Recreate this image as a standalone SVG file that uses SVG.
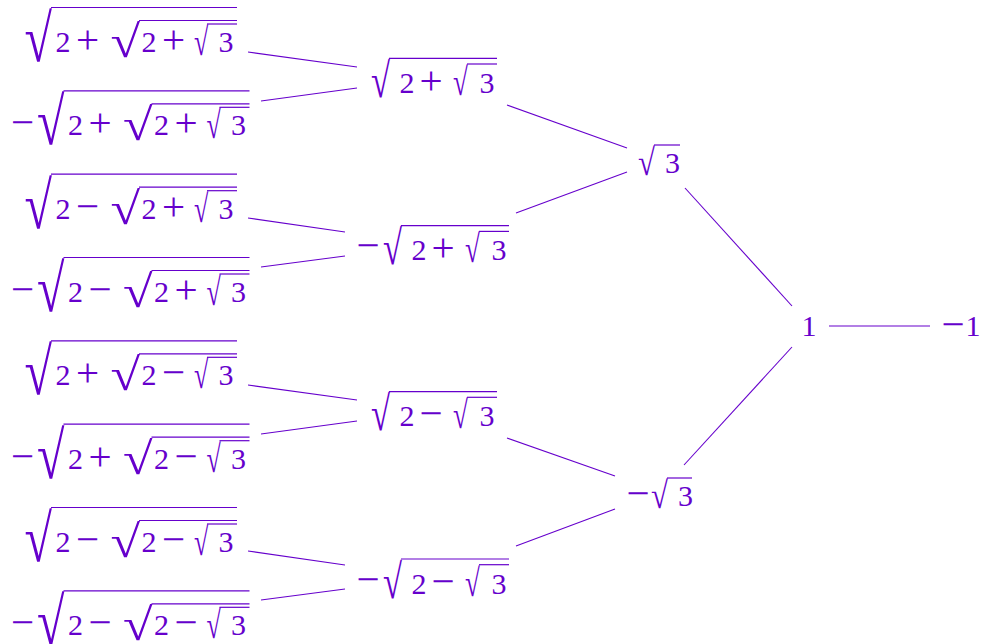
<svg xmlns="http://www.w3.org/2000/svg" width="981" height="644" viewBox="0 0 981 644">
<style>
.t{font-family:"Liberation Serif","DejaVu Serif",serif;font-size:30px;fill:#6600cc;text-anchor:middle}
.o{font-family:"Liberation Serif","DejaVu Serif",serif;font-size:41px;fill:#6600cc;text-anchor:middle}
.r{font-family:"Liberation Serif",serif;font-size:100px;fill:#6600cc}
.v{stroke:#6600cc;stroke-width:1.2;fill:none}
.c{stroke:#6600cc;stroke-width:1.1;fill:none}
.LO{transform:translate(-1.5px,53.5px) scale(0.5,0.669)}
.LI{transform:translate(-1.6px,36.5px) scale(0.538,0.456)}
.LM{transform:translate(-1px,31px) scale(0.26,0.3875)}
.NO{transform:translate(-1px,38.7px) scale(0.346,0.484)}
.NI{transform:translate(-1px,31px) scale(0.27,0.3875)}
.TT{transform:translate(-0.9px,30px) scale(0.308,0.375)}
</style>
<g id="connectors">
<line class="c" x1="248" y1="52" x2="357" y2="67"/>
<line class="c" x1="261" y1="101" x2="357" y2="88"/>
<line class="c" x1="248" y1="218" x2="345" y2="232"/>
<line class="c" x1="261" y1="267" x2="345" y2="256"/>
<line class="c" x1="248" y1="385" x2="357" y2="400"/>
<line class="c" x1="261" y1="434" x2="357" y2="421"/>
<line class="c" x1="248" y1="551" x2="345" y2="565"/>
<line class="c" x1="261" y1="600" x2="345" y2="589"/>
<line class="c" x1="507" y1="105" x2="627" y2="148"/>
<line class="c" x1="516" y1="213" x2="627" y2="172"/>
<line class="c" x1="507" y1="438" x2="615" y2="476"/>
<line class="c" x1="516" y1="546" x2="615" y2="509"/>
<line class="c" x1="685" y1="188" x2="792" y2="306"/>
<line class="c" x1="684" y1="465" x2="792" y2="347"/>
<line class="c" x1="829" y1="326" x2="930" y2="326"/>
</g>
<g id="leaf1">
<g transform="translate(26,7.5)"><text class="r LO">√</text></g><line class="v" x1="51" y1="7.5" x2="237" y2="7.5"/>
<text class="t" x="63" y="52">2</text><text class="o" x="87.5" y="53">+</text>
<g transform="translate(112,20.5)"><text class="r LI">√</text></g><line class="v" x1="139" y1="20.5" x2="237" y2="20.5"/>
<text class="t" x="149" y="52">2</text><text class="o" x="173.5" y="53">+</text>
<g transform="translate(195,24)"><text class="r LM">√</text></g><line class="v" x1="207" y1="24" x2="237" y2="24"/>
<text class="t" x="226" y="52">3</text>
</g>
<g id="leaf2">
<text class="o" x="22.5" y="136.3">−</text>
<g transform="translate(38.5,90.8)"><text class="r LO">√</text></g><line class="v" x1="63.5" y1="90.8" x2="249.5" y2="90.8"/>
<text class="t" x="75.5" y="135.3">2</text><text class="o" x="100" y="136.3">+</text>
<g transform="translate(124.5,103.8)"><text class="r LI">√</text></g><line class="v" x1="151.5" y1="103.8" x2="249.5" y2="103.8"/>
<text class="t" x="161.5" y="135.3">2</text><text class="o" x="186" y="136.3">+</text>
<g transform="translate(207.5,107.3)"><text class="r LM">√</text></g><line class="v" x1="219.5" y1="107.3" x2="249.5" y2="107.3"/>
<text class="t" x="238.5" y="135.3">3</text>
</g>
<g id="leaf3">
<g transform="translate(26,174.2)"><text class="r LO">√</text></g><line class="v" x1="51" y1="174.2" x2="237" y2="174.2"/>
<text class="t" x="63" y="218.7">2</text><text class="o" x="87.5" y="219.7">−</text>
<g transform="translate(112,187.2)"><text class="r LI">√</text></g><line class="v" x1="139" y1="187.2" x2="237" y2="187.2"/>
<text class="t" x="149" y="218.7">2</text><text class="o" x="173.5" y="219.7">+</text>
<g transform="translate(195,190.7)"><text class="r LM">√</text></g><line class="v" x1="207" y1="190.7" x2="237" y2="190.7"/>
<text class="t" x="226" y="218.7">3</text>
</g>
<g id="leaf4">
<text class="o" x="22.5" y="303">−</text>
<g transform="translate(38.5,257.5)"><text class="r LO">√</text></g><line class="v" x1="63.5" y1="257.5" x2="249.5" y2="257.5"/>
<text class="t" x="75.5" y="302">2</text><text class="o" x="100" y="303">−</text>
<g transform="translate(124.5,270.5)"><text class="r LI">√</text></g><line class="v" x1="151.5" y1="270.5" x2="249.5" y2="270.5"/>
<text class="t" x="161.5" y="302">2</text><text class="o" x="186" y="303">+</text>
<g transform="translate(207.5,274)"><text class="r LM">√</text></g><line class="v" x1="219.5" y1="274" x2="249.5" y2="274"/>
<text class="t" x="238.5" y="302">3</text>
</g>
<g id="leaf5">
<g transform="translate(26,340.8)"><text class="r LO">√</text></g><line class="v" x1="51" y1="340.8" x2="237" y2="340.8"/>
<text class="t" x="63" y="385.3">2</text><text class="o" x="87.5" y="386.3">+</text>
<g transform="translate(112,353.8)"><text class="r LI">√</text></g><line class="v" x1="139" y1="353.8" x2="237" y2="353.8"/>
<text class="t" x="149" y="385.3">2</text><text class="o" x="173.5" y="386.3">−</text>
<g transform="translate(195,357.3)"><text class="r LM">√</text></g><line class="v" x1="207" y1="357.3" x2="237" y2="357.3"/>
<text class="t" x="226" y="385.3">3</text>
</g>
<g id="leaf6">
<text class="o" x="22.5" y="469.7">−</text>
<g transform="translate(38.5,424.2)"><text class="r LO">√</text></g><line class="v" x1="63.5" y1="424.2" x2="249.5" y2="424.2"/>
<text class="t" x="75.5" y="468.7">2</text><text class="o" x="100" y="469.7">+</text>
<g transform="translate(124.5,437.2)"><text class="r LI">√</text></g><line class="v" x1="151.5" y1="437.2" x2="249.5" y2="437.2"/>
<text class="t" x="161.5" y="468.7">2</text><text class="o" x="186" y="469.7">−</text>
<g transform="translate(207.5,440.7)"><text class="r LM">√</text></g><line class="v" x1="219.5" y1="440.7" x2="249.5" y2="440.7"/>
<text class="t" x="238.5" y="468.7">3</text>
</g>
<g id="leaf7">
<g transform="translate(26,507.5)"><text class="r LO">√</text></g><line class="v" x1="51" y1="507.5" x2="237" y2="507.5"/>
<text class="t" x="63" y="552">2</text><text class="o" x="87.5" y="553">−</text>
<g transform="translate(112,520.5)"><text class="r LI">√</text></g><line class="v" x1="139" y1="520.5" x2="237" y2="520.5"/>
<text class="t" x="149" y="552">2</text><text class="o" x="173.5" y="553">−</text>
<g transform="translate(195,524)"><text class="r LM">√</text></g><line class="v" x1="207" y1="524" x2="237" y2="524"/>
<text class="t" x="226" y="552">3</text>
</g>
<g id="leaf8">
<text class="o" x="22.5" y="636.3">−</text>
<g transform="translate(38.5,590.8)"><text class="r LO">√</text></g><line class="v" x1="63.5" y1="590.8" x2="249.5" y2="590.8"/>
<text class="t" x="75.5" y="635.3">2</text><text class="o" x="100" y="636.3">−</text>
<g transform="translate(124.5,603.8)"><text class="r LI">√</text></g><line class="v" x1="151.5" y1="603.8" x2="249.5" y2="603.8"/>
<text class="t" x="161.5" y="635.3">2</text><text class="o" x="186" y="636.3">−</text>
<g transform="translate(207.5,607.3)"><text class="r LM">√</text></g><line class="v" x1="219.5" y1="607.3" x2="249.5" y2="607.3"/>
<text class="t" x="238.5" y="635.3">3</text>
</g>
<g id="nodeA">
<g transform="translate(372,58.3)"><text class="r NO">√</text></g><line class="v" x1="389" y1="58.3" x2="497" y2="58.3"/>
<text class="t" x="407" y="92.8">2</text><text class="o" x="431" y="93.8">+</text>
<g transform="translate(454,64)"><text class="r NI">√</text></g><line class="v" x1="467" y1="64" x2="497" y2="64"/>
<text class="t" x="487" y="92.8">3</text>
</g>
<g id="nodeB">
<text class="o" x="368" y="259.2">−</text>
<g transform="translate(384,225.7)"><text class="r NO">√</text></g><line class="v" x1="401" y1="225.7" x2="509" y2="225.7"/>
<text class="t" x="419" y="260.2">2</text><text class="o" x="443" y="261.2">+</text>
<g transform="translate(466,231.4)"><text class="r NI">√</text></g><line class="v" x1="479" y1="231.4" x2="509" y2="231.4"/>
<text class="t" x="499" y="260.2">3</text>
</g>
<g id="nodeC">
<g transform="translate(372,391.6)"><text class="r NO">√</text></g><line class="v" x1="389" y1="391.6" x2="497" y2="391.6"/>
<text class="t" x="407" y="426.1">2</text><text class="o" x="431" y="427.1">−</text>
<g transform="translate(454,397.3)"><text class="r NI">√</text></g><line class="v" x1="467" y1="397.3" x2="497" y2="397.3"/>
<text class="t" x="487" y="426.1">3</text>
</g>
<g id="nodeD">
<text class="o" x="368" y="592.5">−</text>
<g transform="translate(384,559)"><text class="r NO">√</text></g><line class="v" x1="401" y1="559" x2="509" y2="559"/>
<text class="t" x="419" y="593.5">2</text><text class="o" x="443" y="594.5">−</text>
<g transform="translate(466,564.7)"><text class="r NI">√</text></g><line class="v" x1="479" y1="564.7" x2="509" y2="564.7"/>
<text class="t" x="499" y="593.5">3</text>
</g>
<g id="sqrt3">
<g transform="translate(639,145)"><text class="r TT">√</text></g><line class="v" x1="654" y1="145" x2="680" y2="145"/>
<text class="t" x="672.5" y="173">3</text>
</g>
<g id="negsqrt3">
<text class="o" x="638" y="507">−</text>
<g transform="translate(652,478)"><text class="r TT">√</text></g><line class="v" x1="667" y1="478" x2="692" y2="478"/>
<text class="t" x="685.5" y="506">3</text>
</g>
<g id="one"><text class="t" x="809" y="336">1</text></g>
<g id="negone"><text class="o" x="953" y="337.7">−</text><text class="t" x="973" y="336">1</text></g>
</svg>
